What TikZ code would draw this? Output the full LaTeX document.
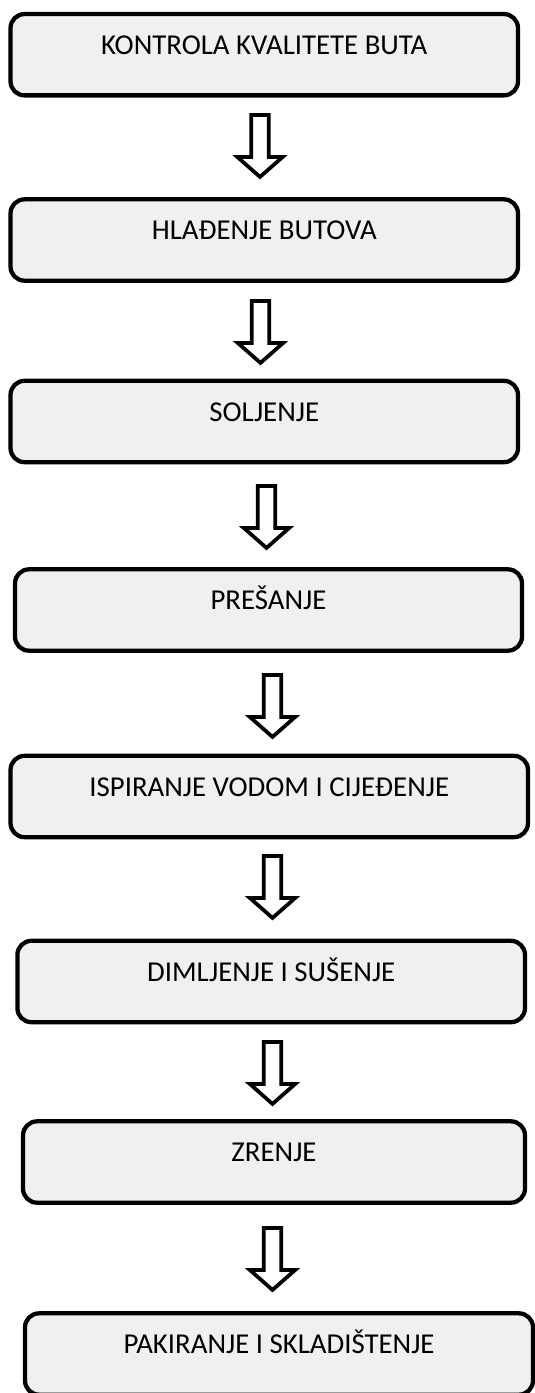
\documentclass[tikz,border=0pt]{standalone}
\usepackage{fontspec}
\setmainfont{Carlito}
\definecolor{boxfill}{HTML}{F0F0F0}
\tikzset{
  stepbox/.style={draw=black, line width=3.2pt, fill=boxfill, rounded corners=10.5pt,
    minimum height=61pt, inner sep=0pt, text height=13.6pt, text depth=14pt,
    align=center, font=\fontsize{21.6pt}{25pt}\selectfont},
  blockarrow/.pic={\draw[line width=2.8pt, fill=white, line join=miter]
    (-8.75,0) -- (8.75,0) -- (8.75,42) -- (22.75,42) -- (0,62) -- (-22.75,42) -- (-8.75,42) -- cycle;}
}
\begin{document}
\begin{tikzpicture}[x=0.75pt,y=-0.75pt]
\useasboundingbox (0,0) rectangle (535,1393);
\clip (0,0) rectangle (535,1393);
\node[stepbox, minimum width=380.6pt] (b1) at (264.25,54.7) {KONTROLA KVALITETE BUTA};
\node[stepbox, minimum width=380.6pt] (b2) at (264.25,240) {HLAĐENJE BUTOVA};
\node[stepbox, minimum width=380.6pt] (b3) at (264.25,421.5) {SOLJENJE};
\node[stepbox, minimum width=380.25pt] (b4) at (268.5,610) {PREŠANJE};
\node[stepbox, minimum width=388.1pt] (b5) at (269.25,796.5) {ISPIRANJE VODOM I CIJEĐENJE};
\node[stepbox, minimum width=380.7pt] (b6) at (271.2,981.5) {DIMLJENJE I SUŠENJE};
\node[stepbox, minimum width=376.5pt] (b7) at (274,1162) {ZRENJE};
\node[stepbox, minimum width=381pt] (b8) at (279,1354) {PAKIRANJE I SKLADIŠTENJE};
\path (b1.south) ++(-4.25,17.4) coordinate (a1);
\path (b2.south) ++(-3.75,18.1) coordinate (a2);
\path (b3.south) ++(2.25,21.6) coordinate (a3);
\path (b4.south) ++(4,22.1) coordinate (a4);
\path (b5.south) ++(3.25,16.6) coordinate (a5);
\path (b6.south) ++(1.3,17.6) coordinate (a6);
\path (b7.south) ++(-1.5,23.1) coordinate (a7);
\foreach \a in {a1,a2,a3,a4,a5,a6,a7} { \pic at (\a) {blockarrow}; }
\end{tikzpicture}
\end{document}
